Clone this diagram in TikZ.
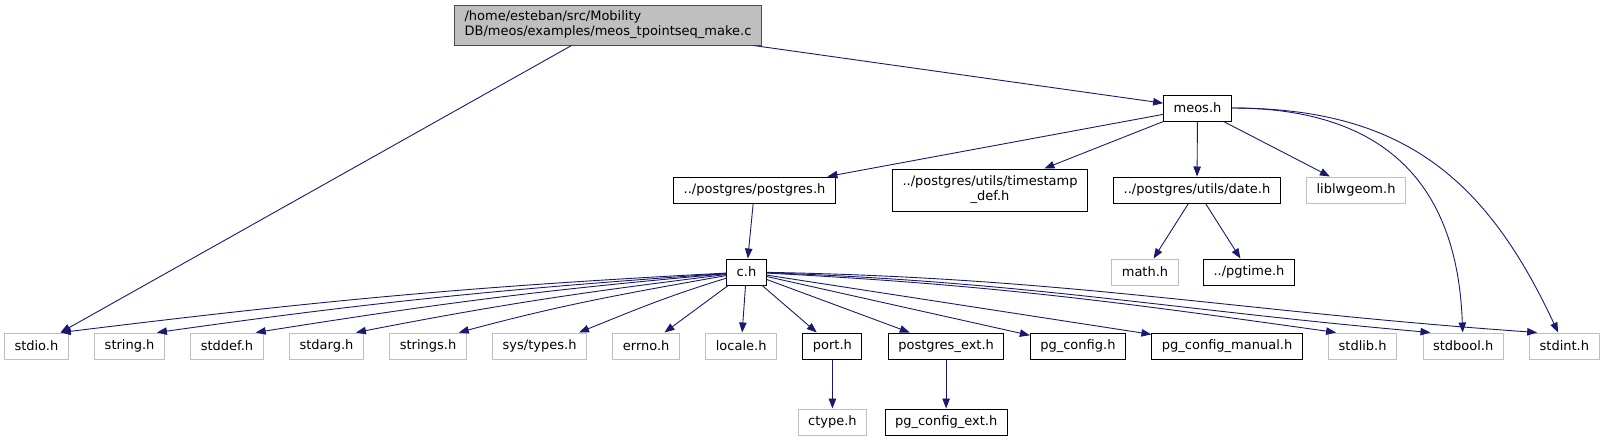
\documentclass[tikz,border=0pt]{standalone}
\usepackage{fontspec}
\setmainfont{DejaVu Sans}
\usepackage{tikz}
\usetikzlibrary{arrows.meta, positioning}

\definecolor{edgeblue}{HTML}{191970}
\definecolor{undocgray}{HTML}{BFBFBF}

\begin{document}
\begin{tikzpicture}[
    x=1pt, y=1pt,
    node distance=25.4pt,
    header/.style={rectangle, draw=black, line width=1pt, minimum height=26pt,
                   inner xsep=10pt, inner ysep=0pt, font=\fontsize{13}{15}\selectfont},
    sysheader/.style={header, draw=undocgray},
    rootfile/.style={header, fill=undocgray, draw=black!70, align=left,
                     minimum height=40pt},
    arrow/.style={-{Triangle[length=10pt, width=7.5pt]}, color=edgeblue, line width=0.9pt}
]
  \useasboundingbox (0,0) rectangle (1607,-440);

  % upper part
  \node[rootfile] (root) at (608,-25)
    {/home/esteban/src/Mobility\\DB/meos/examples/meos\_tpointseq\_make.c};
  \node[header] (meos) at (1197.5,-108) {meos.h};
  \node[header] (postgres) at (754.5,-190) {../postgres/postgres.h};
  \node[header, align=center, minimum height=42pt] (tsdef) at (990,-190)
    {../postgres/utils/timestamp\\\_def.h};
  \node[header] (date) at (1197,-190) {../postgres/utils/date.h};
  \node[sysheader] (liblwgeom) at (1356,-190) {liblwgeom.h};
  \node[header] (ch) at (746.5,-272) {c.h};
  \node[sysheader] (math) at (1145,-272) {math.h};
  \node[header] (pgtime) at (1249,-272) {../pgtime.h};

  % row under c.h
  \node[sysheader, anchor=west] (stdio) at (4,-346) {stdio.h};
  \node[sysheader, right=of stdio] (string) {string.h};
  \node[sysheader, right=of string] (stddef) {stddef.h};
  \node[sysheader, right=of stddef] (stdarg) {stdarg.h};
  \node[sysheader, right=of stdarg] (strings) {strings.h};
  \node[sysheader, right=of strings] (systypes) {sys/types.h};
  \node[sysheader, right=of systypes] (errno) {errno.h};
  \node[sysheader, right=of errno] (locale) {locale.h};
  \node[header, right=of locale] (port) {port.h};
  \node[header, right=of port] (pgext) {postgres\_ext.h};
  \node[header, right=of pgext] (pgconfig) {pg\_config.h};
  \node[header, right=of pgconfig] (pgmanual) {pg\_config\_manual.h};
  \node[sysheader, right=of pgmanual] (stdlib) {stdlib.h};
  \node[sysheader, right=of stdlib] (stdbool) {stdbool.h};
  \node[sysheader, right=of stdbool] (stdint) {stdint.h};

  % last row
  \node[sysheader, below=49pt of port] (ctype) {ctype.h};
  \node[header, below=49pt of pgext] (pgcfgext) {pg\_config\_ext.h};

  % edges
  \draw[arrow] (root) -- (stdio);
  \draw[arrow] (root) -- (meos);
  \draw[arrow] (meos) -- (postgres);
  \draw[arrow] (meos) -- (tsdef);
  \draw[arrow] (meos) -- (date);
  \draw[arrow] (meos) -- (liblwgeom);
  \draw[arrow] (meos) to[out=0, in=92, looseness=1.2] (stdbool);
  \draw[arrow] (meos) to[out=0, in=115, looseness=1.1] (stdint);
  \draw[arrow] (postgres) -- (ch);
  \draw[arrow] (date) -- (math);
  \draw[arrow] (date) -- (pgtime);
  \foreach \dst/\a/\b in {stdio/183/7, string/184/8, stddef/185/9,
                          stdarg/187/11, strings/190/15, systypes/197/22}
    \draw[arrow] (ch) to[out=\a, in=\b] ([xshift=-8pt]\dst.north east);
  \foreach \dst in {errno, locale, port, pgext, pgconfig, pgmanual}
    \draw[arrow] (ch) -- (\dst);
  \foreach \dst/\a/\b in {stdlib/-3/172, stdbool/-2/175, stdint/-1/176}
    \draw[arrow] (ch) to[out=\a, in=\b] ([xshift=8pt]\dst.north west);
  \draw[arrow] (port) -- (ctype);
  \draw[arrow] (pgext) -- (pgcfgext);
\end{tikzpicture}
\end{document}
